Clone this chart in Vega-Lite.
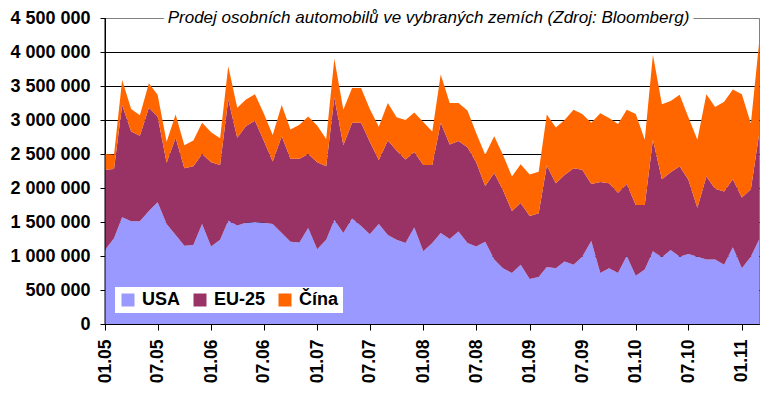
{
  "$schema": "https://vega.github.io/schema/vega-lite/v6.json",
  "width": 654,
  "height": 306,
  "autosize": {"type": "none"},
  "padding": {"left": 105, "top": 18, "right": 7, "bottom": 73},
  "background": "white",
  "config": {
    "font": "Liberation Sans",
    "view": {"stroke": "#808080", "strokeWidth": 1},
    "axis": {"labelFont": "Liberation Sans", "labelFontWeight": "bold", "labelColor": "black", "tickColor": "black", "domainColor": "black", "labelOverlap": false, "labelBound": false, "labelFlush": false},
    "axisX": {"labelAngle": 270, "labelFontSize": 17.5, "labelPadding": 9, "tickSize": 6, "grid": false, "zindex": 1},
    "axisY": {"labelFontSize": 18, "labelPadding": 10, "tickSize": 5, "grid": true, "zindex": 0}
  },
  "datasets": {
    "prodej": [
      {"m": "2005-01-01", "USA": 1090000, "EU-25": 1180000, "Čína": 230000},
      {"m": "2005-02-01", "USA": 1260000, "EU-25": 1020000, "Čína": 210000},
      {"m": "2005-03-01", "USA": 1570000, "EU-25": 1650000, "Čína": 370000},
      {"m": "2005-04-01", "USA": 1510000, "EU-25": 1320000, "Čína": 330000},
      {"m": "2005-05-01", "USA": 1510000, "EU-25": 1260000, "Čína": 300000},
      {"m": "2005-06-01", "USA": 1660000, "EU-25": 1520000, "Čína": 360000},
      {"m": "2005-07-01", "USA": 1790000, "EU-25": 1260000, "Čína": 320000},
      {"m": "2005-08-01", "USA": 1470000, "EU-25": 900000, "Čína": 310000},
      {"m": "2005-09-01", "USA": 1310000, "EU-25": 1430000, "Čína": 340000},
      {"m": "2005-10-01", "USA": 1150000, "EU-25": 1140000, "Čína": 340000},
      {"m": "2005-11-01", "USA": 1160000, "EU-25": 1160000, "Čína": 380000},
      {"m": "2005-12-01", "USA": 1470000, "EU-25": 1030000, "Čína": 460000},
      {"m": "2006-01-01", "USA": 1140000, "EU-25": 1240000, "Čína": 440000},
      {"m": "2006-02-01", "USA": 1240000, "EU-25": 1100000, "Čína": 390000},
      {"m": "2006-03-01", "USA": 1520000, "EU-25": 1780000, "Čína": 490000},
      {"m": "2006-04-01", "USA": 1450000, "EU-25": 1290000, "Čína": 440000},
      {"m": "2006-05-01", "USA": 1490000, "EU-25": 1420000, "Čína": 390000},
      {"m": "2006-06-01", "USA": 1500000, "EU-25": 1490000, "Čína": 390000},
      {"m": "2006-07-01", "USA": 1490000, "EU-25": 1210000, "Čína": 400000},
      {"m": "2006-08-01", "USA": 1470000, "EU-25": 920000, "Čína": 390000},
      {"m": "2006-09-01", "USA": 1340000, "EU-25": 1420000, "Čína": 460000},
      {"m": "2006-10-01", "USA": 1210000, "EU-25": 1220000, "Čína": 430000},
      {"m": "2006-11-01", "USA": 1200000, "EU-25": 1230000, "Čína": 500000},
      {"m": "2006-12-01", "USA": 1410000, "EU-25": 1090000, "Čína": 550000},
      {"m": "2007-01-01", "USA": 1100000, "EU-25": 1280000, "Čína": 540000},
      {"m": "2007-02-01", "USA": 1240000, "EU-25": 1080000, "Čína": 400000},
      {"m": "2007-03-01", "USA": 1530000, "EU-25": 1800000, "Čína": 570000},
      {"m": "2007-04-01", "USA": 1340000, "EU-25": 1290000, "Čína": 520000},
      {"m": "2007-05-01", "USA": 1550000, "EU-25": 1410000, "Čína": 510000},
      {"m": "2007-06-01", "USA": 1440000, "EU-25": 1520000, "Čína": 510000},
      {"m": "2007-07-01", "USA": 1320000, "EU-25": 1360000, "Čína": 480000},
      {"m": "2007-08-01", "USA": 1470000, "EU-25": 940000, "Čína": 490000},
      {"m": "2007-09-01", "USA": 1310000, "EU-25": 1390000, "Čína": 550000},
      {"m": "2007-10-01", "USA": 1240000, "EU-25": 1310000, "Čína": 490000},
      {"m": "2007-11-01", "USA": 1190000, "EU-25": 1230000, "Čína": 580000},
      {"m": "2007-12-01", "USA": 1420000, "EU-25": 1110000, "Čína": 580000},
      {"m": "2008-01-01", "USA": 1070000, "EU-25": 1270000, "Čína": 630000},
      {"m": "2008-02-01", "USA": 1190000, "EU-25": 1150000, "Čína": 490000},
      {"m": "2008-03-01", "USA": 1340000, "EU-25": 1620000, "Čína": 710000},
      {"m": "2008-04-01", "USA": 1250000, "EU-25": 1390000, "Čína": 610000},
      {"m": "2008-05-01", "USA": 1360000, "EU-25": 1330000, "Čína": 560000},
      {"m": "2008-06-01", "USA": 1190000, "EU-25": 1410000, "Čína": 540000},
      {"m": "2008-07-01", "USA": 1140000, "EU-25": 1240000, "Čína": 430000},
      {"m": "2008-08-01", "USA": 1210000, "EU-25": 820000, "Čína": 460000},
      {"m": "2008-09-01", "USA": 950000, "EU-25": 1270000, "Čína": 540000},
      {"m": "2008-10-01", "USA": 820000, "EU-25": 1150000, "Čína": 520000},
      {"m": "2008-11-01", "USA": 750000, "EU-25": 910000, "Čína": 510000},
      {"m": "2008-12-01", "USA": 870000, "EU-25": 910000, "Čína": 570000},
      {"m": "2009-01-01", "USA": 660000, "EU-25": 930000, "Čína": 610000},
      {"m": "2009-02-01", "USA": 690000, "EU-25": 940000, "Čína": 610000},
      {"m": "2009-03-01", "USA": 840000, "EU-25": 1490000, "Čína": 750000},
      {"m": "2009-04-01", "USA": 820000, "EU-25": 1250000, "Čína": 820000},
      {"m": "2009-05-01", "USA": 920000, "EU-25": 1270000, "Čína": 810000},
      {"m": "2009-06-01", "USA": 870000, "EU-25": 1420000, "Čína": 860000},
      {"m": "2009-07-01", "USA": 990000, "EU-25": 1280000, "Čína": 820000},
      {"m": "2009-08-01", "USA": 1220000, "EU-25": 840000, "Čína": 900000},
      {"m": "2009-09-01", "USA": 750000, "EU-25": 1340000, "Čína": 1010000},
      {"m": "2009-10-01", "USA": 820000, "EU-25": 1250000, "Čína": 960000},
      {"m": "2009-11-01", "USA": 750000, "EU-25": 1180000, "Čína": 1010000},
      {"m": "2009-12-01", "USA": 1000000, "EU-25": 1060000, "Čína": 1090000},
      {"m": "2010-01-01", "USA": 710000, "EU-25": 1040000, "Čína": 1340000},
      {"m": "2010-02-01", "USA": 800000, "EU-25": 950000, "Čína": 960000},
      {"m": "2010-03-01", "USA": 1070000, "EU-25": 1640000, "Čína": 1250000},
      {"m": "2010-04-01", "USA": 980000, "EU-25": 1150000, "Čína": 1100000},
      {"m": "2010-05-01", "USA": 1090000, "EU-25": 1140000, "Čína": 1050000},
      {"m": "2010-06-01", "USA": 990000, "EU-25": 1330000, "Čína": 1050000},
      {"m": "2010-07-01", "USA": 1030000, "EU-25": 1090000, "Čína": 920000},
      {"m": "2010-08-01", "USA": 990000, "EU-25": 720000, "Čína": 1000000},
      {"m": "2010-09-01", "USA": 950000, "EU-25": 1220000, "Čína": 1210000},
      {"m": "2010-10-01", "USA": 950000, "EU-25": 1040000, "Čína": 1200000},
      {"m": "2010-11-01", "USA": 870000, "EU-25": 1080000, "Čína": 1320000},
      {"m": "2010-12-01", "USA": 1130000, "EU-25": 1000000, "Čína": 1320000},
      {"m": "2011-01-01", "USA": 820000, "EU-25": 1040000, "Čína": 1520000},
      {"m": "2011-02-01", "USA": 990000, "EU-25": 990000, "Čína": 970000},
      {"m": "2011-03-01", "USA": 1240000, "EU-25": 1540000, "Čína": 1340000}
    ]
  },
  "layer": [
    {
      "data": {"name": "prodej"},
      "transform": [
        {"fold": ["USA", "EU-25", "Čína"], "as": ["zeme", "prodej"]},
        {"calculate": "indexof(['USA', 'EU-25', 'Čína'], datum.zeme)", "as": "poradi"}
      ],
      "mark": {"type": "area", "interpolate": "linear", "opacity": 1},
      "encoding": {
        "x": {
          "field": "m",
          "type": "temporal",
          "scale": {"type": "utc", "nice": false, "domain": [{"year": 2005, "month": 1, "date": 1, "utc": true}, {"year": 2011, "month": 3, "date": 1, "utc": true}]},
          "axis": {"title": null, "tickCount": {"interval": "month", "step": 6}, "labelExpr": "utcFormat(datum.value, '%m.%y')"}
        },
        "y": {
          "field": "prodej",
          "type": "quantitative",
          "stack": "zero",
          "scale": {"domain": [0, 4500000], "nice": false},
          "axis": {
            "title": null,
            "values": [0, 500000, 1000000, 1500000, 2000000, 2500000, 3000000, 3500000, 4000000, 4500000],
            "labelExpr": "replace(replace(format(datum.value, ','), ',', ' '), ',', ' ')",
            "gridColor": {"condition": {"test": "datum.value >= 4500000", "value": "#808080"}, "value": "black"}
          }
        },
        "order": {"field": "poradi", "type": "quantitative", "sort": "ascending"},
        "color": {
          "field": "zeme",
          "type": "nominal",
          "sort": ["USA", "EU-25", "Čína"],
          "scale": {"domain": ["USA", "EU-25", "Čína"], "range": ["#9999FF", "#993366", "#FF6600"]},
          "legend": {
            "title": null,
            "orient": "none",
            "legendX": 10,
            "legendY": 269,
            "direction": "horizontal",
            "symbolType": "square",
            "symbolSize": 169,
            "symbolStrokeWidth": 0,
            "symbolOpacity": 1,
            "labelFont": "Liberation Sans",
            "labelFontSize": 18,
            "labelFontWeight": "bold",
            "labelColor": "black",
            "labelOffset": 5,
            "columnPadding": 10,
            "padding": 4,
            "fillColor": "white",
            "strokeColor": null
          }
        }
      }
    },
    {
      "data": {"values": [{"okraj": "levý"}]},
      "mark": {"type": "rule", "color": "black", "strokeWidth": 1},
      "encoding": {
        "x": {"datum": {"year": 2005, "month": 1, "date": 1, "utc": true}, "type": "temporal", "axis": {"title": null, "tickCount": {"interval": "month", "step": 6}, "labelExpr": "utcFormat(datum.value, '%m.%y')"}}
      }
    },
    {
      "data": {"values": [{"titulek": "Prodej osobních automobilů ve vybraných zemích (Zdroj: Bloomberg)"}]},
      "mark": {"type": "text", "font": "Liberation Sans", "fontSize": 17, "fontStyle": "italic", "align": "center", "baseline": "middle", "color": "white", "stroke": "white", "strokeWidth": 10},
      "encoding": {
        "x": {"datum": {"year": 2008, "month": 1, "date": 19, "utc": true}, "type": "temporal", "axis": {"title": null, "tickCount": {"interval": "month", "step": 6}, "labelExpr": "utcFormat(datum.value, '%m.%y')"}},
        "y": {"datum": 4500000, "type": "quantitative", "axis": {
            "title": null,
            "values": [0, 500000, 1000000, 1500000, 2000000, 2500000, 3000000, 3500000, 4000000, 4500000],
            "labelExpr": "replace(replace(format(datum.value, ','), ',', ' '), ',', ' ')",
            "gridColor": {"condition": {"test": "datum.value >= 4500000", "value": "#808080"}, "value": "black"}
          }},
        "text": {"field": "titulek"}
      }
    },
    {
      "data": {"values": [{"titulek": "Prodej osobních automobilů ve vybraných zemích (Zdroj: Bloomberg)"}]},
      "mark": {"type": "text", "font": "Liberation Sans", "fontSize": 17, "fontStyle": "italic", "align": "center", "baseline": "middle", "color": "black"},
      "encoding": {
        "x": {"datum": {"year": 2008, "month": 1, "date": 19, "utc": true}, "type": "temporal", "axis": {"title": null, "tickCount": {"interval": "month", "step": 6}, "labelExpr": "utcFormat(datum.value, '%m.%y')"}},
        "y": {"datum": 4500000, "type": "quantitative", "axis": {
            "title": null,
            "values": [0, 500000, 1000000, 1500000, 2000000, 2500000, 3000000, 3500000, 4000000, 4500000],
            "labelExpr": "replace(replace(format(datum.value, ','), ',', ' '), ',', ' ')",
            "gridColor": {"condition": {"test": "datum.value >= 4500000", "value": "#808080"}, "value": "black"}
          }},
        "text": {"field": "titulek"}
      }
    }
  ]
}
